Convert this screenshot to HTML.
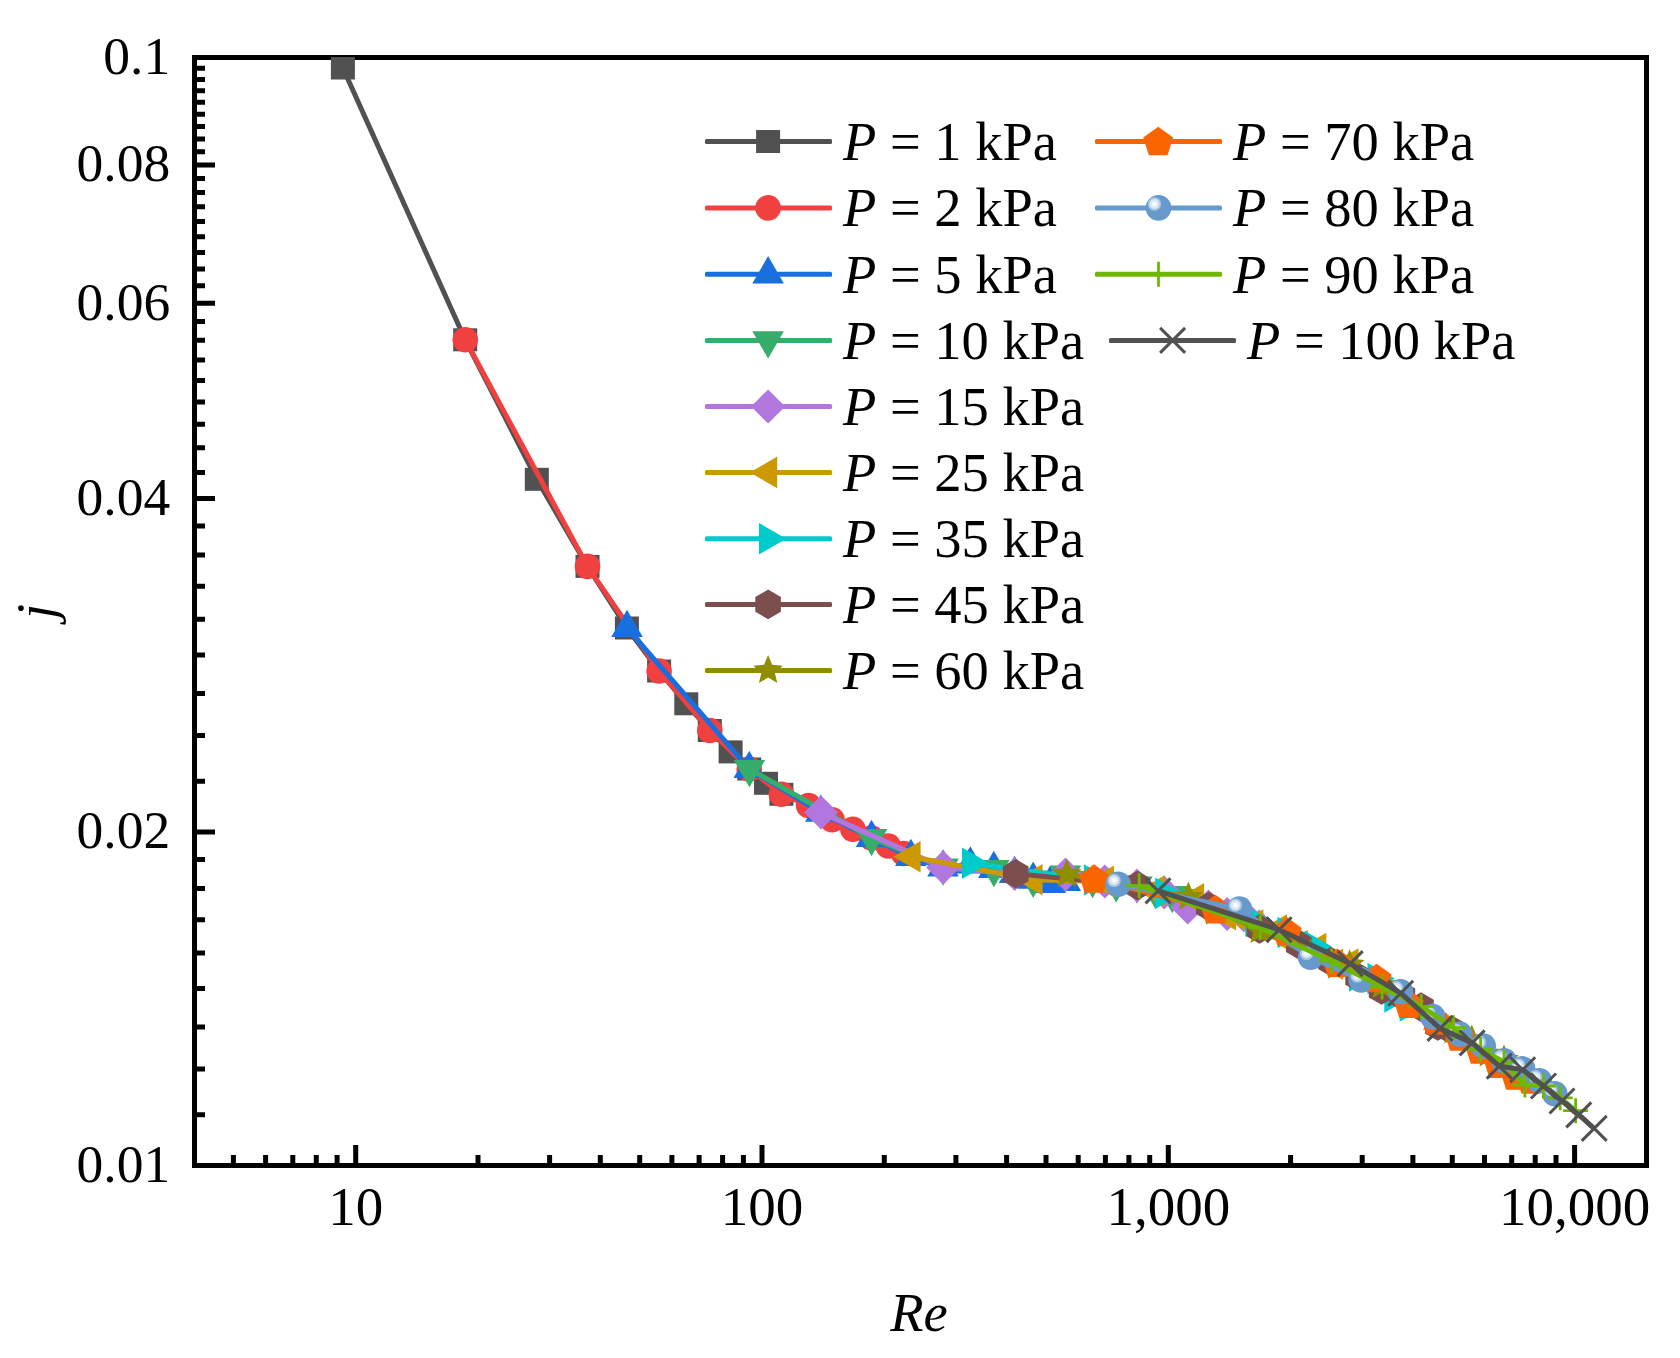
<!DOCTYPE html>
<html><head><meta charset="utf-8"><title>j vs Re</title>
<style>html,body{margin:0;padding:0;background:#fff}svg{display:block}text{font-family:"Liberation Serif",serif;font-size:54.5px;fill:#000}.i{font-style:italic}</style></head><body>
<svg width="1680" height="1358" viewBox="0 0 1680 1358">
<rect width="1680" height="1358" fill="#fff"/>
<rect x="194.5" y="57.5" width="1452.0" height="1108.0" fill="none" stroke="#000" stroke-width="5"/>
<path d="M194.5 57.5H215M194.5 164.9H215M194.5 303.3H215M194.5 498.4H215M194.5 832.0H215M194.5 1165.5H215M194.5 68.3H205M194.5 79.4H205M194.5 90.7H205M194.5 102.3H205M194.5 114.2H205M194.5 126.4H205M194.5 138.9H205M194.5 151.7H205M194.5 178.4H205M194.5 192.4H205M194.5 206.7H205M194.5 221.6H205M194.5 236.8H205M194.5 252.6H205M194.5 268.9H205M194.5 285.8H205M194.5 321.5H205M194.5 340.3H205M194.5 360.0H205M194.5 380.5H205M194.5 401.9H205M194.5 424.2H205M194.5 447.7H205M194.5 472.4H205M194.5 525.9H205M194.5 555.1H205M194.5 586.2H205M194.5 619.3H205M194.5 655.0H205M194.5 693.5H205M194.5 735.4H205M194.5 781.3H205M194.5 859.5H205M194.5 888.6H205M194.5 919.7H205M194.5 952.9H205M194.5 988.6H205M194.5 1027.1H205M194.5 1068.9H205M194.5 1114.8H205M355.7 1165.5V1145M762.0 1165.5V1145M1168.3 1165.5V1145M1574.6 1165.5V1145M233.4 1165.5V1155M265.6 1165.5V1155M292.8 1165.5V1155M316.3 1165.5V1155M337.1 1165.5V1155M478.0 1165.5V1155M549.6 1165.5V1155M600.3 1165.5V1155M639.7 1165.5V1155M671.9 1165.5V1155M699.1 1165.5V1155M722.6 1165.5V1155M743.4 1165.5V1155M884.3 1165.5V1155M955.9 1165.5V1155M1006.6 1165.5V1155M1046.0 1165.5V1155M1078.2 1165.5V1155M1105.4 1165.5V1155M1128.9 1165.5V1155M1149.7 1165.5V1155M1290.6 1165.5V1155M1362.2 1165.5V1155M1412.9 1165.5V1155M1452.3 1165.5V1155M1484.5 1165.5V1155M1511.7 1165.5V1155M1535.2 1165.5V1155M1556.0 1165.5V1155" stroke="#000" stroke-width="5" fill="none"/>
<clipPath id="pa"><rect x="194.5" y="57.0" width="1452.0" height="1108.5"/></clipPath>
<g clip-path="url(#pa)" stroke-linejoin="round" stroke-linecap="butt">
<polyline points="342.9,68.0 465.2,339.8 536.8,479.3 587.5,566.4 626.9,628.0 659.1,671.0 686.3,703.8 709.8,730.5 730.6,751.9 749.2,769.0 766.0,783.3 781.4,794.3" fill="none" stroke="#515151" stroke-width="5.0"/>
<rect x="330.9" y="56.5" width="24" height="23" fill="#515151"/>
<rect x="453.2" y="328.3" width="24" height="23" fill="#515151"/>
<rect x="524.8" y="467.8" width="24" height="23" fill="#515151"/>
<rect x="575.5" y="554.9" width="24" height="23" fill="#515151"/>
<rect x="614.9" y="616.5" width="24" height="23" fill="#515151"/>
<rect x="647.1" y="659.5" width="24" height="23" fill="#515151"/>
<rect x="674.3" y="692.3" width="24" height="23" fill="#515151"/>
<rect x="697.8" y="719.0" width="24" height="23" fill="#515151"/>
<rect x="718.6" y="740.4" width="24" height="23" fill="#515151"/>
<rect x="737.2" y="757.5" width="24" height="23" fill="#515151"/>
<rect x="754.0" y="771.8" width="24" height="23" fill="#515151"/>
<rect x="769.4" y="782.8" width="24" height="23" fill="#515151"/>
<polyline points="465.3,339.8 587.5,566.4 659.1,671.0 709.8,730.5 749.2,769.0 781.4,794.3 808.6,805.5 832.1,819.8 852.9,829.3 871.5,838.0 888.3,846.0 903.7,853.5" fill="none" stroke="#F14040" stroke-width="5.0"/>
<circle cx="465.3" cy="339.8" r="12.8" fill="#F14040"/>
<circle cx="587.5" cy="566.4" r="12.8" fill="#F14040"/>
<circle cx="659.1" cy="671.0" r="12.8" fill="#F14040"/>
<circle cx="709.8" cy="730.5" r="12.8" fill="#F14040"/>
<circle cx="749.2" cy="769.0" r="12.8" fill="#F14040"/>
<circle cx="781.4" cy="794.3" r="12.8" fill="#F14040"/>
<circle cx="808.6" cy="805.5" r="12.8" fill="#F14040"/>
<circle cx="832.1" cy="819.8" r="12.8" fill="#F14040"/>
<circle cx="852.9" cy="829.3" r="12.8" fill="#F14040"/>
<circle cx="871.5" cy="838.0" r="12.8" fill="#F14040"/>
<circle cx="888.3" cy="846.0" r="12.8" fill="#F14040"/>
<circle cx="903.7" cy="853.5" r="12.8" fill="#F14040"/>
<polyline points="627.0,628.0 749.3,769.0 820.8,812.6 871.5,838.0 910.9,857.0 943.1,867.5 970.3,864.5 993.8,869.0 1014.6,874.0 1033.2,879.7 1050.0,884.0 1065.4,882.0" fill="none" stroke="#1A6FDF" stroke-width="5.0"/>
<polygon points="627.0,609.8 642.8,637.1 611.2,637.1" fill="#1A6FDF"/>
<polygon points="749.3,750.8 765.0,778.1 733.5,778.1" fill="#1A6FDF"/>
<polygon points="820.8,794.4 836.5,821.7 805.0,821.7" fill="#1A6FDF"/>
<polygon points="871.5,819.8 887.3,847.1 855.8,847.1" fill="#1A6FDF"/>
<polygon points="910.9,838.8 926.7,866.1 895.1,866.1" fill="#1A6FDF"/>
<polygon points="943.1,849.3 958.8,876.6 927.3,876.6" fill="#1A6FDF"/>
<polygon points="970.3,846.3 986.0,873.6 954.5,873.6" fill="#1A6FDF"/>
<polygon points="993.8,850.8 1009.6,878.1 978.1,878.1" fill="#1A6FDF"/>
<polygon points="1014.6,855.8 1030.4,883.1 998.8,883.1" fill="#1A6FDF"/>
<polygon points="1033.2,861.5 1049.0,888.8 1017.4,888.8" fill="#1A6FDF"/>
<polygon points="1050.0,865.8 1065.8,893.1 1034.3,893.1" fill="#1A6FDF"/>
<polygon points="1065.4,863.8 1081.1,891.1 1049.6,891.1" fill="#1A6FDF"/>
<polyline points="749.4,769.0 871.6,838.0 943.1,867.5 993.9,869.0 1033.2,879.7 1065.4,874.5 1092.6,880.0 1116.2,884.3 1136.9,885.6 1155.5,891.0 1172.3,895.1 1187.7,898.0" fill="none" stroke="#37AD6B" stroke-width="5.0"/>
<polygon points="749.4,787.2 733.7,759.9 765.2,759.9" fill="#37AD6B"/>
<polygon points="871.6,856.2 855.9,828.9 887.4,828.9" fill="#37AD6B"/>
<polygon points="943.1,885.7 927.4,858.4 958.9,858.4" fill="#37AD6B"/>
<polygon points="993.9,887.2 978.1,859.9 1009.6,859.9" fill="#37AD6B"/>
<polygon points="1033.2,897.9 1017.5,870.6 1049.0,870.6" fill="#37AD6B"/>
<polygon points="1065.4,892.7 1049.6,865.4 1081.2,865.4" fill="#37AD6B"/>
<polygon points="1092.6,898.2 1076.8,870.9 1108.4,870.9" fill="#37AD6B"/>
<polygon points="1116.2,902.5 1100.4,875.2 1131.9,875.2" fill="#37AD6B"/>
<polygon points="1136.9,903.8 1121.2,876.5 1152.7,876.5" fill="#37AD6B"/>
<polygon points="1155.5,909.2 1139.8,881.9 1171.3,881.9" fill="#37AD6B"/>
<polygon points="1172.3,913.3 1156.6,886.0 1188.1,886.0" fill="#37AD6B"/>
<polygon points="1187.7,916.2 1171.9,888.9 1203.4,888.9" fill="#37AD6B"/>
<polyline points="821.1,812.6 943.2,867.6 1014.7,874.0 1065.5,874.5 1104.8,881.4 1137.0,885.6 1164.2,892.4 1187.7,907.4 1208.5,906.5 1227.1,914.0 1243.9,915.3 1259.2,926.4" fill="none" stroke="#B177DE" stroke-width="5.0"/>
<polygon points="838.1,812.6 821.1,829.6 804.1,812.6 821.1,795.6" fill="#B177DE"/>
<polygon points="960.2,867.6 943.2,884.6 926.2,867.6 943.2,850.6" fill="#B177DE"/>
<polygon points="1031.7,874.0 1014.7,891.0 997.7,874.0 1014.7,857.0" fill="#B177DE"/>
<polygon points="1082.5,874.5 1065.5,891.5 1048.5,874.5 1065.5,857.5" fill="#B177DE"/>
<polygon points="1121.8,881.4 1104.8,898.4 1087.8,881.4 1104.8,864.4" fill="#B177DE"/>
<polygon points="1154.0,885.6 1137.0,902.6 1120.0,885.6 1137.0,868.6" fill="#B177DE"/>
<polygon points="1181.2,892.4 1164.2,909.4 1147.2,892.4 1164.2,875.4" fill="#B177DE"/>
<polygon points="1204.7,907.4 1187.7,924.4 1170.7,907.4 1187.7,890.4" fill="#B177DE"/>
<polygon points="1225.5,906.5 1208.5,923.5 1191.5,906.5 1208.5,889.5" fill="#B177DE"/>
<polygon points="1244.1,914.0 1227.1,931.0 1210.1,914.0 1227.1,897.0" fill="#B177DE"/>
<polygon points="1260.9,915.3 1243.9,932.3 1226.9,915.3 1243.9,898.3" fill="#B177DE"/>
<polygon points="1276.2,926.4 1259.2,943.4 1242.2,926.4 1259.2,909.4" fill="#B177DE"/>
<polyline points="911.5,856.8 1033.5,879.7 1104.9,881.4 1155.7,891.0 1195.0,898.9 1227.1,914.6 1254.3,925.1 1277.9,930.0 1298.7,945.8 1317.2,948.5 1334.1,964.2 1349.4,964.0" fill="none" stroke="#CC9900" stroke-width="5.0"/>
<polygon points="893.3,856.8 920.6,841.0 920.6,872.6" fill="#CC9900"/>
<polygon points="1015.3,879.7 1042.6,863.9 1042.6,895.5" fill="#CC9900"/>
<polygon points="1086.7,881.4 1114.0,865.6 1114.0,897.2" fill="#CC9900"/>
<polygon points="1137.5,891.0 1164.8,875.2 1164.8,906.8" fill="#CC9900"/>
<polygon points="1176.8,898.9 1204.1,883.1 1204.1,914.7" fill="#CC9900"/>
<polygon points="1208.9,914.6 1236.2,898.8 1236.2,930.4" fill="#CC9900"/>
<polygon points="1236.1,925.1 1263.4,909.3 1263.4,940.9" fill="#CC9900"/>
<polygon points="1259.7,930.0 1287.0,914.2 1287.0,945.8" fill="#CC9900"/>
<polygon points="1280.5,945.8 1307.8,930.0 1307.8,961.6" fill="#CC9900"/>
<polygon points="1299.0,948.5 1326.3,932.7 1326.3,964.3" fill="#CC9900"/>
<polygon points="1315.9,964.2 1343.2,948.4 1343.2,980.0" fill="#CC9900"/>
<polygon points="1331.2,964.0 1358.5,948.2 1358.5,979.8" fill="#CC9900"/>
<polyline points="971.1,863.3 1093.0,880.0 1164.4,893.3 1215.1,908.8 1254.4,921.2 1286.6,932.5 1313.7,946.5 1337.3,962.9 1358.1,976.0 1376.6,978.6 1393.4,997.0 1408.8,1006.0" fill="none" stroke="#00CBCC" stroke-width="5.0"/>
<polygon points="989.3,863.3 962.0,879.1 962.0,847.5" fill="#00CBCC"/>
<polygon points="1111.2,880.0 1083.9,895.8 1083.9,864.2" fill="#00CBCC"/>
<polygon points="1182.6,893.3 1155.3,909.1 1155.3,877.5" fill="#00CBCC"/>
<polygon points="1233.3,908.8 1206.0,924.6 1206.0,893.0" fill="#00CBCC"/>
<polygon points="1272.6,921.2 1245.3,937.0 1245.3,905.4" fill="#00CBCC"/>
<polygon points="1304.8,932.5 1277.5,948.3 1277.5,916.7" fill="#00CBCC"/>
<polygon points="1331.9,946.5 1304.6,962.3 1304.6,930.7" fill="#00CBCC"/>
<polygon points="1355.5,962.9 1328.2,978.7 1328.2,947.1" fill="#00CBCC"/>
<polygon points="1376.3,976.0 1349.0,991.8 1349.0,960.2" fill="#00CBCC"/>
<polygon points="1394.8,978.6 1367.5,994.4 1367.5,962.8" fill="#00CBCC"/>
<polygon points="1411.6,997.0 1384.3,1012.8 1384.3,981.2" fill="#00CBCC"/>
<polygon points="1427.0,1006.0 1399.7,1021.8 1399.7,990.2" fill="#00CBCC"/>
<polyline points="1015.7,873.8 1137.5,885.6 1208.8,906.5 1259.5,929.0 1298.8,944.6 1330.9,961.6 1358.1,977.3 1381.7,990.0 1402.4,996.0 1421.0,1007.1 1437.8,1026.0 1453.2,1031.0" fill="none" stroke="#7D4E4E" stroke-width="5.0"/>
<polygon points="1015.7,859.0 1028.5,866.4 1028.5,881.2 1015.7,888.6 1002.9,881.2 1002.9,866.4" fill="#7D4E4E"/>
<polygon points="1137.5,870.8 1150.3,878.2 1150.3,893.0 1137.5,900.4 1124.6,893.0 1124.6,878.2" fill="#7D4E4E"/>
<polygon points="1208.8,891.7 1221.6,899.1 1221.6,913.9 1208.8,921.3 1196.0,913.9 1196.0,899.1" fill="#7D4E4E"/>
<polygon points="1259.5,914.2 1272.3,921.6 1272.3,936.4 1259.5,943.8 1246.7,936.4 1246.7,921.6" fill="#7D4E4E"/>
<polygon points="1298.8,929.8 1311.6,937.2 1311.6,952.0 1298.8,959.4 1286.0,952.0 1286.0,937.2" fill="#7D4E4E"/>
<polygon points="1330.9,946.8 1343.8,954.2 1343.8,969.0 1330.9,976.4 1318.1,969.0 1318.1,954.2" fill="#7D4E4E"/>
<polygon points="1358.1,962.5 1370.9,969.9 1370.9,984.7 1358.1,992.1 1345.3,984.7 1345.3,969.9" fill="#7D4E4E"/>
<polygon points="1381.7,975.2 1394.5,982.6 1394.5,997.4 1381.7,1004.8 1368.8,997.4 1368.8,982.6" fill="#7D4E4E"/>
<polygon points="1402.4,981.2 1415.2,988.6 1415.2,1003.4 1402.4,1010.8 1389.6,1003.4 1389.6,988.6" fill="#7D4E4E"/>
<polygon points="1421.0,992.3 1433.8,999.7 1433.8,1014.5 1421.0,1021.9 1408.2,1014.5 1408.2,999.7" fill="#7D4E4E"/>
<polygon points="1437.8,1011.2 1450.6,1018.6 1450.6,1033.4 1437.8,1040.8 1425.0,1033.4 1425.0,1018.6" fill="#7D4E4E"/>
<polygon points="1453.2,1016.2 1466.0,1023.6 1466.0,1038.4 1453.2,1045.8 1440.3,1038.4 1440.3,1023.6" fill="#7D4E4E"/>
<polyline points="1066.9,874.3 1188.4,897.1 1259.7,930.4 1310.3,954.0 1349.6,964.8 1381.8,985.4 1408.9,1005.5 1432.5,1017.9 1453.2,1031.0 1471.8,1040.0 1488.6,1054.0 1504.0,1060.0" fill="none" stroke="#8E8E00" stroke-width="5.0"/>
<polygon points="1066.9,858.7 1071.0,868.6 1081.7,869.5 1073.5,876.5 1076.0,886.9 1066.9,881.3 1057.7,886.9 1060.2,876.5 1052.0,869.5 1062.7,868.6" fill="#8E8E00"/>
<polygon points="1188.4,881.5 1192.5,891.4 1203.3,892.3 1195.1,899.3 1197.6,909.7 1188.4,904.1 1179.2,909.7 1181.7,899.3 1173.6,892.3 1184.3,891.4" fill="#8E8E00"/>
<polygon points="1259.7,914.8 1263.8,924.7 1274.5,925.6 1266.4,932.6 1268.9,943.0 1259.7,937.4 1250.5,943.0 1253.0,932.6 1244.9,925.6 1255.6,924.7" fill="#8E8E00"/>
<polygon points="1310.3,938.4 1314.5,948.3 1325.2,949.2 1317.0,956.2 1319.5,966.6 1310.3,961.0 1301.2,966.6 1303.7,956.2 1295.5,949.2 1306.2,948.3" fill="#8E8E00"/>
<polygon points="1349.6,949.2 1353.8,959.1 1364.5,960.0 1356.3,967.0 1358.8,977.4 1349.6,971.8 1340.5,977.4 1343.0,967.0 1334.8,960.0 1345.5,959.1" fill="#8E8E00"/>
<polygon points="1381.8,969.8 1385.9,979.7 1396.6,980.6 1388.4,987.6 1390.9,998.0 1381.8,992.4 1372.6,998.0 1375.1,987.6 1366.9,980.6 1377.6,979.7" fill="#8E8E00"/>
<polygon points="1408.9,989.9 1413.1,999.8 1423.8,1000.7 1415.6,1007.7 1418.1,1018.1 1408.9,1012.5 1399.8,1018.1 1402.3,1007.7 1394.1,1000.7 1404.8,999.8" fill="#8E8E00"/>
<polygon points="1432.5,1002.3 1436.6,1012.2 1447.3,1013.1 1439.1,1020.1 1441.6,1030.5 1432.5,1024.9 1423.3,1030.5 1425.8,1020.1 1417.6,1013.1 1428.3,1012.2" fill="#8E8E00"/>
<polygon points="1453.2,1015.4 1457.4,1025.3 1468.1,1026.2 1459.9,1033.2 1462.4,1043.6 1453.2,1038.0 1444.1,1043.6 1446.6,1033.2 1438.4,1026.2 1449.1,1025.3" fill="#8E8E00"/>
<polygon points="1471.8,1024.4 1475.9,1034.3 1486.6,1035.2 1478.5,1042.2 1481.0,1052.6 1471.8,1047.0 1462.6,1052.6 1465.1,1042.2 1457.0,1035.2 1467.7,1034.3" fill="#8E8E00"/>
<polygon points="1488.6,1038.4 1492.7,1048.3 1503.4,1049.2 1495.3,1056.2 1497.8,1066.6 1488.6,1061.0 1479.4,1066.6 1481.9,1056.2 1473.8,1049.2 1484.5,1048.3" fill="#8E8E00"/>
<polygon points="1504.0,1044.4 1508.1,1054.3 1518.8,1055.2 1510.6,1062.2 1513.1,1072.6 1504.0,1067.0 1494.8,1072.6 1497.3,1062.2 1489.1,1055.2 1499.8,1054.3" fill="#8E8E00"/>
<polyline points="1094.3,879.0 1215.7,909.6 1287.0,931.8 1337.6,963.2 1376.9,978.5 1409.0,1004.3 1436.2,1020.8 1459.7,1037.0 1480.5,1050.0 1499.0,1064.2 1515.8,1075.9 1531.2,1080.0" fill="none" stroke="#FB6501" stroke-width="5.0"/>
<polygon points="1094.0,864.2 1109.0,875.1 1103.3,892.8 1084.7,892.8 1079.0,875.1" fill="#FB6501"/>
<polygon points="1215.4,894.8 1230.5,905.7 1224.7,923.4 1206.2,923.4 1200.4,905.7" fill="#FB6501"/>
<polygon points="1286.7,917.0 1301.7,927.9 1296.0,945.6 1277.4,945.6 1271.7,927.9" fill="#FB6501"/>
<polygon points="1337.3,948.4 1352.3,959.3 1346.6,977.0 1328.0,977.0 1322.3,959.3" fill="#FB6501"/>
<polygon points="1376.6,963.7 1391.6,974.6 1385.9,992.3 1367.3,992.3 1361.6,974.6" fill="#FB6501"/>
<polygon points="1408.7,989.5 1423.7,1000.4 1418.0,1018.1 1399.4,1018.1 1393.7,1000.4" fill="#FB6501"/>
<polygon points="1435.9,1006.0 1450.9,1016.9 1445.2,1034.6 1426.6,1034.6 1420.8,1016.9" fill="#FB6501"/>
<polygon points="1459.4,1022.2 1474.4,1033.1 1468.7,1050.8 1450.1,1050.8 1444.4,1033.1" fill="#FB6501"/>
<polygon points="1480.2,1035.2 1495.2,1046.1 1489.4,1063.8 1470.9,1063.8 1465.1,1046.1" fill="#FB6501"/>
<polygon points="1498.7,1049.4 1513.8,1060.3 1508.0,1078.0 1489.4,1078.0 1483.7,1060.3" fill="#FB6501"/>
<polygon points="1515.5,1061.1 1530.6,1072.0 1524.8,1089.7 1506.2,1089.7 1500.5,1072.0" fill="#FB6501"/>
<polygon points="1530.9,1065.2 1545.9,1076.1 1540.2,1093.8 1521.6,1093.8 1515.8,1076.1" fill="#FB6501"/>
<polyline points="1118.1,884.3 1239.4,909.0 1310.6,957.3 1361.2,979.9 1400.5,991.7 1432.6,1016.6 1459.8,1034.2 1483.3,1046.0 1504.1,1060.7 1522.6,1068.9 1539.4,1080.7 1554.8,1093.7" fill="none" stroke="#6699CC" stroke-width="5.0"/>
<circle cx="1118.1" cy="884.3" r="12.8" fill="#6699CC"/><circle cx="1114.1" cy="880.4" r="6.7" fill="#A9C6E3"/><circle cx="1114.1" cy="880.4" r="4.9" fill="#DCE8F4"/><circle cx="1114.1" cy="880.4" r="2.4" fill="#FDFEFF"/>
<circle cx="1239.4" cy="909.0" r="12.8" fill="#6699CC"/><circle cx="1235.4" cy="905.1" r="6.7" fill="#A9C6E3"/><circle cx="1235.4" cy="905.1" r="4.9" fill="#DCE8F4"/><circle cx="1235.4" cy="905.1" r="2.4" fill="#FDFEFF"/>
<circle cx="1310.6" cy="957.3" r="12.8" fill="#6699CC"/><circle cx="1306.6" cy="953.4" r="6.7" fill="#A9C6E3"/><circle cx="1306.6" cy="953.4" r="4.9" fill="#DCE8F4"/><circle cx="1306.6" cy="953.4" r="2.4" fill="#FDFEFF"/>
<circle cx="1361.2" cy="979.9" r="12.8" fill="#6699CC"/><circle cx="1357.2" cy="976.0" r="6.7" fill="#A9C6E3"/><circle cx="1357.2" cy="976.0" r="4.9" fill="#DCE8F4"/><circle cx="1357.2" cy="976.0" r="2.4" fill="#FDFEFF"/>
<circle cx="1400.5" cy="991.7" r="12.8" fill="#6699CC"/><circle cx="1396.5" cy="987.8" r="6.7" fill="#A9C6E3"/><circle cx="1396.5" cy="987.8" r="4.9" fill="#DCE8F4"/><circle cx="1396.5" cy="987.8" r="2.4" fill="#FDFEFF"/>
<circle cx="1432.6" cy="1016.6" r="12.8" fill="#6699CC"/><circle cx="1428.6" cy="1012.7" r="6.7" fill="#A9C6E3"/><circle cx="1428.6" cy="1012.7" r="4.9" fill="#DCE8F4"/><circle cx="1428.6" cy="1012.7" r="2.4" fill="#FDFEFF"/>
<circle cx="1459.8" cy="1034.2" r="12.8" fill="#6699CC"/><circle cx="1455.8" cy="1030.3" r="6.7" fill="#A9C6E3"/><circle cx="1455.8" cy="1030.3" r="4.9" fill="#DCE8F4"/><circle cx="1455.8" cy="1030.3" r="2.4" fill="#FDFEFF"/>
<circle cx="1483.3" cy="1046.0" r="12.8" fill="#6699CC"/><circle cx="1479.3" cy="1042.1" r="6.7" fill="#A9C6E3"/><circle cx="1479.3" cy="1042.1" r="4.9" fill="#DCE8F4"/><circle cx="1479.3" cy="1042.1" r="2.4" fill="#FDFEFF"/>
<circle cx="1504.1" cy="1060.7" r="12.8" fill="#6699CC"/><circle cx="1500.1" cy="1056.8" r="6.7" fill="#A9C6E3"/><circle cx="1500.1" cy="1056.8" r="4.9" fill="#DCE8F4"/><circle cx="1500.1" cy="1056.8" r="2.4" fill="#FDFEFF"/>
<circle cx="1522.6" cy="1068.9" r="12.8" fill="#6699CC"/><circle cx="1518.6" cy="1065.0" r="6.7" fill="#A9C6E3"/><circle cx="1518.6" cy="1065.0" r="4.9" fill="#DCE8F4"/><circle cx="1518.6" cy="1065.0" r="2.4" fill="#FDFEFF"/>
<circle cx="1539.4" cy="1080.7" r="12.8" fill="#6699CC"/><circle cx="1535.4" cy="1076.8" r="6.7" fill="#A9C6E3"/><circle cx="1535.4" cy="1076.8" r="4.9" fill="#DCE8F4"/><circle cx="1535.4" cy="1076.8" r="2.4" fill="#FDFEFF"/>
<circle cx="1554.8" cy="1093.7" r="12.8" fill="#6699CC"/><circle cx="1550.8" cy="1089.8" r="6.7" fill="#A9C6E3"/><circle cx="1550.8" cy="1089.8" r="4.9" fill="#DCE8F4"/><circle cx="1550.8" cy="1089.8" r="2.4" fill="#FDFEFF"/>
<polyline points="1139.2,885.7 1260.3,927.7 1331.5,961.2 1382.1,987.1 1421.3,1006.4 1453.4,1027.7 1480.6,1049.5 1504.1,1062.0 1524.9,1085.0 1543.4,1086.0 1560.2,1097.8 1575.6,1110.7" fill="none" stroke="#6FB802" stroke-width="5.0"/>
<path d="M1139.2 873.2V898.2M1126.7 885.7H1151.7" stroke="#6FB802" stroke-width="2.8" fill="none"/>
<path d="M1260.3 915.2V940.2M1247.8 927.7H1272.8" stroke="#6FB802" stroke-width="2.8" fill="none"/>
<path d="M1331.5 948.7V973.7M1319.0 961.2H1344.0" stroke="#6FB802" stroke-width="2.8" fill="none"/>
<path d="M1382.1 974.6V999.6M1369.6 987.1H1394.6" stroke="#6FB802" stroke-width="2.8" fill="none"/>
<path d="M1421.3 993.9V1018.9M1408.8 1006.4H1433.8" stroke="#6FB802" stroke-width="2.8" fill="none"/>
<path d="M1453.4 1015.2V1040.2M1440.9 1027.7H1465.9" stroke="#6FB802" stroke-width="2.8" fill="none"/>
<path d="M1480.6 1037.0V1062.0M1468.1 1049.5H1493.1" stroke="#6FB802" stroke-width="2.8" fill="none"/>
<path d="M1504.1 1049.5V1074.5M1491.6 1062.0H1516.6" stroke="#6FB802" stroke-width="2.8" fill="none"/>
<path d="M1524.9 1072.5V1097.5M1512.4 1085.0H1537.4" stroke="#6FB802" stroke-width="2.8" fill="none"/>
<path d="M1543.4 1073.5V1098.5M1530.9 1086.0H1555.9" stroke="#6FB802" stroke-width="2.8" fill="none"/>
<path d="M1560.2 1085.3V1110.3M1547.7 1097.8H1572.7" stroke="#6FB802" stroke-width="2.8" fill="none"/>
<path d="M1575.6 1098.2V1123.2M1563.1 1110.7H1588.1" stroke="#6FB802" stroke-width="2.8" fill="none"/>
<polyline points="1158.0,890.9 1279.1,929.7 1350.2,963.6 1400.7,993.2 1440.0,1028.4 1472.1,1042.9 1499.2,1066.1 1522.7,1069.8 1543.5,1086.0 1562.0,1101.0 1578.8,1114.9 1594.2,1128.4" fill="none" stroke="#515151" stroke-width="5.0"/>
<path d="M1145.5 878.4L1170.5 903.4M1145.5 903.4L1170.5 878.4" stroke="#515151" stroke-width="3.0" fill="none"/>
<path d="M1266.6 917.2L1291.6 942.2M1266.6 942.2L1291.6 917.2" stroke="#515151" stroke-width="3.0" fill="none"/>
<path d="M1337.7 951.1L1362.7 976.1M1337.7 976.1L1362.7 951.1" stroke="#515151" stroke-width="3.0" fill="none"/>
<path d="M1388.2 980.7L1413.2 1005.7M1388.2 1005.7L1413.2 980.7" stroke="#515151" stroke-width="3.0" fill="none"/>
<path d="M1427.5 1015.9L1452.5 1040.9M1427.5 1040.9L1452.5 1015.9" stroke="#515151" stroke-width="3.0" fill="none"/>
<path d="M1459.6 1030.4L1484.6 1055.4M1459.6 1055.4L1484.6 1030.4" stroke="#515151" stroke-width="3.0" fill="none"/>
<path d="M1486.7 1053.6L1511.7 1078.6M1486.7 1078.6L1511.7 1053.6" stroke="#515151" stroke-width="3.0" fill="none"/>
<path d="M1510.2 1057.3L1535.2 1082.3M1510.2 1082.3L1535.2 1057.3" stroke="#515151" stroke-width="3.0" fill="none"/>
<path d="M1531.0 1073.5L1556.0 1098.5M1531.0 1098.5L1556.0 1073.5" stroke="#515151" stroke-width="3.0" fill="none"/>
<path d="M1549.5 1088.5L1574.5 1113.5M1549.5 1113.5L1574.5 1088.5" stroke="#515151" stroke-width="3.0" fill="none"/>
<path d="M1566.3 1102.4L1591.3 1127.4M1566.3 1127.4L1591.3 1102.4" stroke="#515151" stroke-width="3.0" fill="none"/>
<path d="M1581.7 1115.9L1606.7 1140.9M1581.7 1140.9L1606.7 1115.9" stroke="#515151" stroke-width="3.0" fill="none"/>
</g>
<text x="170.2" y="73.9" text-anchor="end" style="font-size:53.5px">0.1</text>
<text x="170.2" y="181.3" text-anchor="end" style="font-size:53.5px">0.08</text>
<text x="170.2" y="319.7" text-anchor="end" style="font-size:53.5px">0.06</text>
<text x="170.2" y="514.8" text-anchor="end" style="font-size:53.5px">0.04</text>
<text x="170.2" y="848.4" text-anchor="end" style="font-size:53.5px">0.02</text>
<text x="170.2" y="1181.9" text-anchor="end" style="font-size:53.5px">0.01</text>
<text x="355.7" y="1224.7" text-anchor="middle" style="font-size:55px">10</text>
<text x="762.0" y="1224.7" text-anchor="middle" style="font-size:55px">100</text>
<text x="1168.3" y="1224.7" text-anchor="middle" style="font-size:55px">1,000</text>
<text x="1574.6" y="1224.7" text-anchor="middle" style="font-size:55px">10,000</text>
<text class="i" x="919" y="1331" text-anchor="middle">Re</text>
<text class="i" transform="translate(54,611.5) rotate(-90)" text-anchor="middle">j</text>
<rect x="705.0" y="139.0" width="127" height="5.0" rx="1.5" fill="#515151"/>
<rect x="756.1" y="130.0" width="24" height="23" fill="#515151"/>
<text x="843.0" y="159.7"><tspan class="i">P</tspan> = 1 kPa</text>
<rect x="705.0" y="205.4" width="127" height="5.0" rx="1.5" fill="#F14040"/>
<circle cx="768.1" cy="207.9" r="12.8" fill="#F14040"/>
<text x="843.0" y="226.1"><tspan class="i">P</tspan> = 2 kPa</text>
<rect x="705.0" y="271.8" width="127" height="5.0" rx="1.5" fill="#1A6FDF"/>
<polygon points="768.1,256.1 783.9,283.4 752.3,283.4" fill="#1A6FDF"/>
<text x="843.0" y="292.5"><tspan class="i">P</tspan> = 5 kPa</text>
<rect x="705.0" y="337.9" width="127" height="5.0" rx="1.5" fill="#37AD6B"/>
<polygon points="768.1,358.6 752.3,331.3 783.9,331.3" fill="#37AD6B"/>
<text x="843.0" y="358.6"><tspan class="i">P</tspan> = 10 kPa</text>
<rect x="705.0" y="404.0" width="127" height="5.0" rx="1.5" fill="#B177DE"/>
<polygon points="785.1,406.5 768.1,423.5 751.1,406.5 768.1,389.5" fill="#B177DE"/>
<text x="843.0" y="424.7"><tspan class="i">P</tspan> = 15 kPa</text>
<rect x="705.0" y="469.9" width="127" height="5.0" rx="1.5" fill="#CC9900"/>
<polygon points="749.9,472.4 777.2,456.6 777.2,488.2" fill="#CC9900"/>
<text x="843.0" y="490.6"><tspan class="i">P</tspan> = 25 kPa</text>
<rect x="705.0" y="536.2" width="127" height="5.0" rx="1.5" fill="#00CBCC"/>
<polygon points="786.3,538.7 759.0,554.5 759.0,522.9" fill="#00CBCC"/>
<text x="843.0" y="556.9"><tspan class="i">P</tspan> = 35 kPa</text>
<rect x="705.0" y="601.9" width="127" height="5.0" rx="1.5" fill="#7D4E4E"/>
<polygon points="768.1,589.6 780.9,597.0 780.9,611.8 768.1,619.2 755.3,611.8 755.3,597.0" fill="#7D4E4E"/>
<text x="843.0" y="622.6"><tspan class="i">P</tspan> = 45 kPa</text>
<rect x="705.0" y="668.0" width="127" height="5.0" rx="1.5" fill="#8E8E00"/>
<polygon points="768.1,654.9 772.2,664.8 782.9,665.7 774.8,672.7 777.3,683.1 768.1,677.5 758.9,683.1 761.4,672.7 753.3,665.7 764.0,664.8" fill="#8E8E00"/>
<text x="843.0" y="688.7"><tspan class="i">P</tspan> = 60 kPa</text>
<rect x="1095.0" y="139.0" width="127" height="5.0" rx="1.5" fill="#FB6501"/>
<polygon points="1158.2,126.7 1173.2,137.6 1167.5,155.3 1148.9,155.3 1143.2,137.6" fill="#FB6501"/>
<text x="1233.0" y="159.7"><tspan class="i">P</tspan> = 70 kPa</text>
<rect x="1095.0" y="205.4" width="127" height="5.0" rx="1.5" fill="#6699CC"/>
<circle cx="1158.5" cy="207.9" r="12.8" fill="#6699CC"/><circle cx="1154.5" cy="204.0" r="6.7" fill="#A9C6E3"/><circle cx="1154.5" cy="204.0" r="4.9" fill="#DCE8F4"/><circle cx="1154.5" cy="204.0" r="2.4" fill="#FDFEFF"/>
<text x="1233.0" y="226.1"><tspan class="i">P</tspan> = 80 kPa</text>
<rect x="1095.0" y="271.8" width="127" height="5.0" rx="1.5" fill="#6FB802"/>
<path d="M1158.5 261.8V286.8M1146.0 274.3H1171.0" stroke="#6FB802" stroke-width="2.8" fill="none"/>
<text x="1233.0" y="292.5"><tspan class="i">P</tspan> = 90 kPa</text>
<rect x="1109.0" y="337.9" width="127" height="5.0" rx="1.5" fill="#515151"/>
<path d="M1160.1 327.9L1185.1 352.9M1160.1 352.9L1185.1 327.9" stroke="#515151" stroke-width="3.0" fill="none"/>
<text x="1247.0" y="358.6"><tspan class="i">P</tspan> = 100 kPa</text>
</svg></body></html>
